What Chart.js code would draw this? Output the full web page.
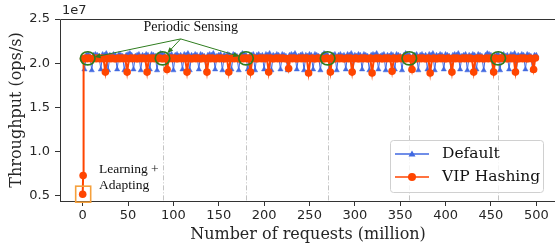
<!DOCTYPE html>
<html>
<head>
<meta charset="utf-8">
<script src="https://cdn.jsdelivr.net/npm/chart.js@4.4.0/dist/chart.umd.min.js"></script>
<style>
  html, body { margin: 0; padding: 0; background: #fff; overflow: hidden; width: 555px; height: 249px; }
  canvas { display: block; }
</style>
</head>
<body>
<canvas id="chart" width="565" height="249"></canvas>
<script>
// throughput in units of 1e7 ops/s
const STEP = 2; // million requests between samples

// Default: samples at 0, 2, 4 ... 500
const defaultY = [
  2.06, 1.93, 2.09, 2.10, 2.08, 1.92, 2.09, 2.10, 2.09, 2.08,
  1.93, 2.10, 2.09, 2.11, 1.92, 2.09, 2.08, 2.10, 2.09, 1.93,
  2.10, 2.09, 2.08, 1.92, 2.09, 2.10, 2.11, 2.09, 1.93, 2.08,
  2.09, 2.10, 1.92, 2.09, 2.08, 2.10, 2.09, 1.93, 2.10, 2.09,
  2.08, 1.92, 2.09, 2.11, 2.10, 2.09, 1.93, 2.08, 2.09, 2.10,
  1.92, 2.09, 2.10, 2.08, 2.09, 1.93, 2.10, 2.09, 2.11, 1.92,
  2.09, 2.08, 2.10, 2.09, 1.93, 2.10, 2.09, 2.08, 1.92, 2.09,
  2.10, 2.09, 2.11, 1.93, 2.08, 2.09, 2.10, 1.92, 2.09, 2.08,
  2.10, 2.09, 1.93, 2.10, 2.09, 2.08, 1.92, 2.09, 2.11, 2.10,
  2.09, 1.93, 2.08, 2.09, 2.10, 1.92, 2.09, 2.10, 2.08, 2.09,
  1.93, 2.10, 2.09, 2.11, 1.92, 2.09, 2.08, 2.10, 2.09, 1.93,
  2.10, 2.09, 2.08, 1.92, 2.09, 2.10, 2.09, 2.11, 1.93, 2.08,
  2.09, 2.10, 1.92, 2.09, 2.08, 2.10, 2.09, 1.93, 2.10, 2.09,
  2.08, 1.92, 2.09, 2.11, 2.10, 2.09, 1.93, 2.08, 2.09, 2.10,
  1.92, 2.09, 2.10, 2.08, 2.09, 1.93, 2.10, 2.09, 2.11, 1.92,
  2.09, 2.08, 2.10, 2.09, 1.93, 2.10, 2.09, 2.08, 1.92, 2.09,
  2.10, 2.09, 2.11, 1.93, 2.08, 2.09, 2.10, 1.92, 2.09, 2.08,
  2.10, 2.09, 1.93, 2.10, 2.09, 2.08, 1.92, 2.09, 2.11, 2.10,
  2.09, 1.93, 2.08, 2.09, 2.10, 1.92, 2.09, 2.10, 2.08, 2.09,
  1.93, 2.10, 2.09, 2.11, 1.92, 2.09, 2.08, 2.10, 2.09, 1.93,
  2.10, 2.09, 2.08, 1.92, 2.09, 2.10, 2.09, 2.11, 1.93, 2.08,
  2.09, 2.10, 1.92, 2.09, 2.08, 2.10, 2.09, 1.93, 2.10, 2.09,
  2.08, 1.92, 2.09, 2.11, 2.10, 2.09, 1.93, 2.08, 2.09, 2.10,
  1.92, 2.09, 2.10, 2.08, 2.09, 1.93, 2.10, 2.09, 2.11, 1.92,
  2.09, 2.08, 2.10, 2.09, 1.93, 2.10, 2.09, 2.08, 1.92, 2.09,
  2.09
];

// VIP Hashing: warm-up points, then samples at 1, 3, 5 ... 499
const vipWarmX = [0, 0.5];
const vipWarmY = [0.52, 0.73];
const vipY = [
  2.05, 2.06, 2.05, 2.06, 2.05, 2.05, 2.06, 2.05, 2.06, 2.05,
  2.06, 2.05, 1.90, 2.05, 2.06, 2.05, 2.06, 2.05, 2.05, 2.06,
  2.05, 2.06, 2.05, 2.06, 1.90, 2.05, 2.06, 2.05, 2.06, 2.05,
  2.05, 2.06, 2.05, 2.06, 2.05, 1.90, 2.06, 2.05, 2.06, 2.05,
  2.06, 2.05, 2.06, 2.05, 2.05, 2.06, 1.93, 2.05, 2.06, 2.05,
  2.06, 2.05, 2.05, 2.06, 2.05, 2.06, 2.05, 1.90, 2.06, 2.05,
  2.05, 2.06, 2.05, 2.06, 2.05, 2.05, 2.06, 2.05, 1.90, 2.06,
  2.05, 2.06, 2.05, 2.05, 2.06, 2.05, 2.06, 2.05, 2.05, 2.06,
  1.90, 2.05, 2.06, 2.05, 2.06, 2.05, 2.05, 2.06, 2.05, 2.06,
  2.05, 2.06, 1.90, 2.05, 2.06, 2.05, 2.05, 2.06, 2.05, 2.06,
  2.05, 2.06, 1.90, 2.06, 2.05, 2.05, 2.06, 2.05, 2.06, 2.05,
  2.06, 2.05, 2.05, 1.94, 2.06, 2.05, 2.06, 2.05, 2.05, 2.06,
  2.05, 2.06, 2.05, 2.06, 1.89, 2.05, 2.06, 2.05, 2.05, 2.06,
  2.05, 2.06, 2.05, 2.05, 2.06, 2.05, 1.90, 2.06, 2.05, 2.05,
  2.06, 2.05, 2.06, 2.05, 2.05, 2.06, 2.05, 2.06, 1.90, 2.05,
  2.06, 2.05, 2.05, 2.06, 2.05, 2.06, 2.05, 2.05, 2.06, 1.89,
  2.05, 2.06, 2.05, 2.06, 2.05, 2.05, 2.06, 2.05, 2.06, 2.05,
  1.91, 2.06, 2.05, 2.05, 2.06, 2.05, 2.06, 2.05, 2.05, 2.06,
  2.05, 1.93, 2.06, 2.05, 2.05, 2.06, 2.05, 2.06, 2.05, 2.05,
  2.06, 1.89, 2.05, 2.06, 2.05, 2.05, 2.06, 2.05, 2.06, 2.05,
  2.05, 2.06, 2.05, 1.90, 2.06, 2.05, 2.06, 2.05, 2.05, 2.06,
  2.05, 2.06, 2.05, 2.06, 2.05, 1.90, 2.05, 2.06, 2.05, 2.06,
  2.05, 2.05, 2.06, 2.05, 2.06, 2.05, 1.90, 2.06, 2.05, 2.05,
  2.06, 2.05, 2.06, 2.05, 2.05, 2.06, 2.05, 2.06, 1.90, 2.05,
  2.05, 2.06, 2.05, 2.06, 2.05, 2.05, 2.06, 2.05, 1.93, 2.06
];

const xTicks = [0, 50, 100, 150, 200, 250, 300, 350, 400, 450, 500];
const yTicks = [0.5, 1.0, 1.5, 2.0, 2.5];

// periodic sensing moments (million requests)
const senseX = [5.5, 88, 180, 270, 360, 458];
const senseY = 2.055;

const BLUE = '#4169e1';
const ORANGE = '#ff4500';
const GREEN = '#2f7d1f';
const AXIS = '#333333';

const defaultPts = defaultY.map((v, i) => ({ x: i * STEP, y: v }));
const vipPts = vipWarmX.map((x, i) => ({ x, y: vipWarmY[i] }))
  .concat(vipY.map((v, i) => ({ x: 1 + i * STEP, y: v })));

const decor = {
  id: 'decor',
  beforeDatasetsDraw(chart) {
    const { ctx, chartArea: a, scales: { x, y } } = chart;
    ctx.save();
    ctx.strokeStyle = '#c4c4c4';
    ctx.lineWidth = 1;
    ctx.setLineDash([5, 2, 1, 2]);
    senseX.slice(1).forEach(sx => {
      const px = Math.round(x.getPixelForValue(sx)) + 0.5;
      ctx.beginPath();
      ctx.moveTo(px, y.getPixelForValue(senseY) + 7);
      ctx.lineTo(px, a.bottom);
      ctx.stroke();
    });
    ctx.restore();
  },
  afterDraw(chart) {
    const { ctx, chartArea: a, scales: { x, y } } = chart;
    ctx.save();

    // spines
    ctx.strokeStyle = AXIS;
    ctx.lineWidth = 1;
    ctx.beginPath();
    ctx.moveTo(a.left + 0.5, a.bottom);
    ctx.lineTo(a.left + 0.5, a.top + 0.5);
    ctx.lineTo(a.right, a.top + 0.5);
    ctx.moveTo(a.left, a.bottom + 0.5);
    ctx.lineTo(a.right, a.bottom + 0.5);
    ctx.stroke();

    // sensing circles
    ctx.strokeStyle = GREEN;
    ctx.lineWidth = 1.7;
    const cy = y.getPixelForValue(senseY);
    senseX.forEach(sx => {
      ctx.beginPath();
      ctx.ellipse(x.getPixelForValue(sx), cy, 7.3, 6.6, 0, 0, Math.PI * 2);
      ctx.stroke();
    });

    // annotation text + arrows
    ctx.fillStyle = '#111';
    ctx.font = '14px "Liberation Serif", serif';
    ctx.textAlign = 'center';
    ctx.textBaseline = 'middle';
    ctx.fillText('Periodic Sensing', x.getPixelForValue(119), y.getPixelForValue(2.41));

    const ox = x.getPixelForValue(108), oy = y.getPixelForValue(2.275);
    ctx.strokeStyle = GREEN;
    ctx.fillStyle = GREEN;
    ctx.lineWidth = 1;
    senseX.slice(0, 3).forEach(sx => {
      const tx0 = x.getPixelForValue(sx), ty0 = cy;
      const dx = tx0 - ox, dy = ty0 - oy, len = Math.hypot(dx, dy);
      const ux = dx / len, uy = dy / len;
      const tx = tx0 - ux * 7, ty = ty0 - uy * 7;
      ctx.beginPath();
      ctx.moveTo(ox, oy);
      ctx.lineTo(tx - ux * 4, ty - uy * 4);
      ctx.stroke();
      ctx.beginPath();
      ctx.moveTo(tx, ty);
      ctx.lineTo(tx - ux * 6 - uy * 2.5, ty - uy * 6 + ux * 2.5);
      ctx.lineTo(tx - ux * 6 + uy * 2.5, ty - uy * 6 - ux * 2.5);
      ctx.closePath();
      ctx.fill();
    });

    // learning box
    const bx = x.getPixelForValue(vipWarmX[0]), by = y.getPixelForValue(vipWarmY[0]);
    ctx.strokeStyle = '#f5a03c';
    ctx.lineWidth = 1.6;
    ctx.strokeRect(bx - 7, by - 8, 15, 16);

    ctx.fillStyle = '#111';
    ctx.font = '13.5px "Liberation Serif", serif';
    ctx.textAlign = 'left';
    ctx.fillText('Learning +', x.getPixelForValue(18), y.getPixelForValue(0.80));
    ctx.fillText('Adapting', x.getPixelForValue(18), y.getPixelForValue(0.615));

    // 1e7 offset
    ctx.fillStyle = '#262626';
    ctx.font = '13px "DejaVu Sans", sans-serif';
    ctx.fillText('1e7', a.left + 2, 11);

    // axis titles
    ctx.font = '16px "DejaVu Serif", serif';
    ctx.textAlign = 'center';
    ctx.fillText('Number of requests (million)', 308, 235);
    ctx.save();
    ctx.translate(17, (a.top + a.bottom) / 2);
    ctx.rotate(-Math.PI / 2);
    ctx.fillText('Throughput (ops/s)', 0, 0);
    ctx.restore();

    // legend
    const lx = 390, ly = 140, lw = 153, lh = 52;
    ctx.fillStyle = 'rgba(255,255,255,0.8)';
    ctx.strokeStyle = '#d0d0d0';
    ctx.lineWidth = 1;
    ctx.beginPath();
    ctx.roundRect(lx + 0.5, ly + 0.5, lw, lh, 3);
    ctx.fill();
    ctx.stroke();
    chart.data.datasets.forEach((ds, i) => {
      const ey = ly + 14 + i * 23;
      ctx.strokeStyle = ds.borderColor;
      ctx.lineWidth = 1.3;
      ctx.beginPath();
      ctx.moveTo(lx + 5, ey);
      ctx.lineTo(lx + 39, ey);
      ctx.stroke();
      ctx.fillStyle = ds.borderColor;
      if (ds.pointStyle === 'triangle') {
        ctx.beginPath();
        ctx.moveTo(lx + 22, ey - 3.5);
        ctx.lineTo(lx + 25.5, ey + 2.5);
        ctx.lineTo(lx + 18.5, ey + 2.5);
        ctx.closePath();
        ctx.fill();
      } else {
        ctx.beginPath();
        ctx.arc(lx + 22, ey, 4, 0, Math.PI * 2);
        ctx.fill();
      }
      ctx.fillStyle = '#111';
      ctx.font = '15.5px "DejaVu Serif", serif';
      ctx.textAlign = 'left';
      ctx.textBaseline = 'middle';
      ctx.fillText(ds.label, lx + 52, ey);
    });

    ctx.restore();
  }
};

new Chart(document.getElementById('chart'), {
  type: 'line',
  data: {
    datasets: [
      {
        label: 'Default',
        data: defaultPts,
        borderColor: BLUE,
        backgroundColor: BLUE,
        borderWidth: 1,
        pointStyle: 'triangle',
        pointRadius: 3,
        pointBorderWidth: 0.5,
        order: 2,
      },
      {
        label: 'VIP Hashing',
        data: vipPts,
        borderColor: ORANGE,
        backgroundColor: ORANGE,
        borderWidth: 2,
        pointStyle: 'circle',
        pointRadius: 3.8,
        pointBorderWidth: 0,
        order: 1,
      }
    ]
  },
  options: {
    responsive: false,
    animation: false,
    devicePixelRatio: 1,
    events: [],
    layout: { padding: { left: 0, top: 19, right: 6, bottom: 0 } },
    plugins: { legend: { display: false }, tooltip: { enabled: false } },
    scales: {
      x: {
        type: 'linear',
        min: -25,
        max: 525,
        afterBuildTicks: s => { s.ticks = xTicks.map(v => ({ value: v })); },
        afterFit: s => { s.height = 48; },
        grid: { drawOnChartArea: false, tickLength: 5, tickColor: AXIS },
        border: { display: false },
        ticks: { color: '#262626', padding: 2, maxRotation: 0, font: { family: '"DejaVu Sans"', size: 13 } }
      },
      y: {
        min: 0.443,
        max: 2.5,
        afterBuildTicks: s => { s.ticks = yTicks.map(v => ({ value: v })); },
        afterFit: s => { s.width = 60; },
        grid: { drawOnChartArea: false, tickLength: 5, tickColor: AXIS },
        border: { display: false },
        ticks: { color: '#262626', padding: 5, callback: v => v.toFixed(1), font: { family: '"DejaVu Sans"', size: 13 } }
      }
    }
  },
  plugins: [decor]
});
</script>
</body>
</html>
